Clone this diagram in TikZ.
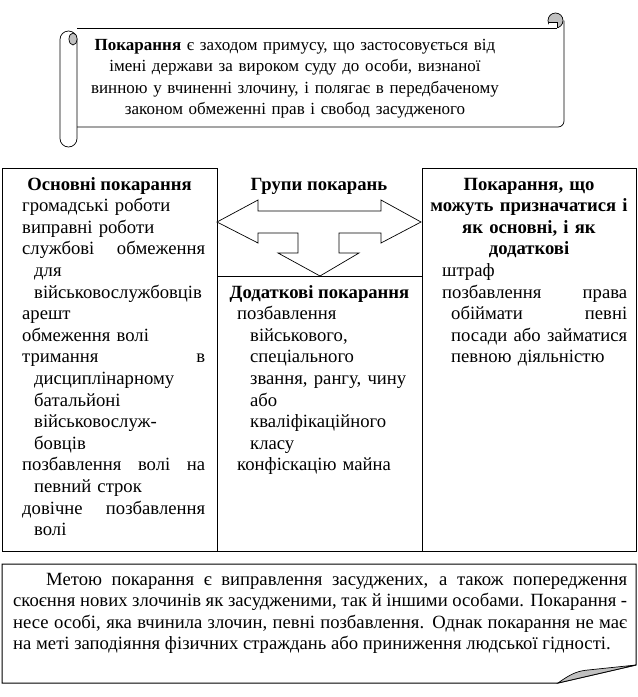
\documentclass[tikz,border=0pt]{standalone}
\usepackage{fontspec}
\setmainfont{Liberation Serif}
\usepackage{tikz}
\usetikzlibrary{positioning, calc}
\definecolor{foldgray}{RGB}{192,192,192}
\hyphenpenalty=10000
\tolerance=9999

\begin{document}
\begin{tikzpicture}[x=1pt, y=-1pt,
                    txt/.style={inner sep=0pt, font=\fontsize{18.67}{21.6}\selectfont},
                    head/.style={txt, font=\fontsize{18.67}{21.6}\selectfont\bfseries},
                    boxline/.style={draw, line width=1pt},
                    thinline/.style={draw, line width=0.7pt},
                    curl/.style={thinline, fill=foldgray}]
    \useasboundingbox (0,0) rectangle (638,697);

    % Scroll with the definition
    \draw[thinline, fill=white, rounded corners=8.5pt] (60,31) rectangle (77,147);
    \draw[curl] (73,39) ellipse [x radius=4, y radius=6];
    \draw[thinline] (77,28) -- (557,28);
    \draw[thinline, rounded corners=6pt] (564,20.5) -- (564,127) -- (77,127);
    \draw[curl] (555.5,20.5) circle [radius=7.5];
    \fill[white] (549,22) rectangle (557,28);
    \draw[thinline] (549,22) -- (557,22) -- (557,28);
    \node[txt, font=\fontsize{17}{21.5}\selectfont, anchor=base, text width=450pt, align=center] (def) at (295,50)
        {\textbf{Покарання} є заходом примусу, що застосовується від\\
         імені держави за вироком суду до особи, визнаної\\
         винною у вчиненні злочину, і полягає в передбаченому\\
         законом обмеженні прав і свобод засудженого};

    % Groups
    \draw[boxline] (2,168) rectangle (217,551);
    \draw[boxline] (422,168) rectangle (636,551);
    \draw[boxline] (217,276) rectangle (422,551);
    \node[head, anchor=base] (grp) at (319,190) {Групи покарань};
    \draw[thinline, fill=white] (217,222) -- (258,200) -- (258,211) -- (381,211) -- (381,200)
        -- (421,222) -- (381,243) -- (381,233) -- (339,233) -- (339,253) -- (359,253)
        -- (320,276) -- (278,253) -- (298,253) -- (298,233) -- (258,233) -- (258,243) -- cycle;

    % Main punishments
    \node[head, anchor=base] (osnT) at (109.5,190) {Основні покарання};
    \node[txt, anchor=base west, text width=183pt, align=left] (osnL) at (22,211.6)
        {громадські роботи\\
         виправні роботи\\
         службові\hfill обмеження\\
         \hspace*{12pt}для\\
         \hspace*{12pt}військовослужбовців\\
         арешт\\
         обмеження волі\\
         тримання\hfill в\\
         \hspace*{12pt}дисциплінарному\\
         \hspace*{12pt}батальйоні\\
         \hspace*{12pt}військовослуж-\\
         \hspace*{12pt}бовців\\
         позбавлення\hfill волі\hfill на\\
         \hspace*{12pt}певний строк\\
         довічне\hfill позбавлення\\
         \hspace*{12pt}волі};

    % Additional punishments
    \node[head, anchor=base] (dodT) at (319.5,298) {Додаткові покарання};
    \node[txt, anchor=base west, text width=180pt, align=left] (dodL) at (237,319.6)
        {позбавлення\\
         \hspace*{13pt}військового,\\
         \hspace*{13pt}спеціального\\
         \hspace*{13pt}звання, рангу, чину\\
         \hspace*{13pt}або\\
         \hspace*{13pt}кваліфікаційного\\
         \hspace*{13pt}класу\\
         конфіскацію майна};

    % Both main and additional
    \node[head, anchor=base, text width=205pt, align=center] (bothT) at (529,190)
        {Покарання, що\\
         можуть призначатися і\\
         як основні, і як\\
         додаткові};
    \node[txt, anchor=base west, text width=185pt, align=left] (bothL) at (442,276.4)
        {штраф\\
         позбавлення\hfill права\\
         \hspace*{9pt}обіймати\hfill певні\\
         \hspace*{9pt}посади\hfill або\hfill займатися\\
         \hspace*{9pt}певною діяльністю};

    % Aim of punishment
    \draw[boxline] (2,564) -- (636,564) -- (636,665) -- (558,683) -- (2,683) -- cycle;
    \draw[thinline, fill=foldgray] (558,683) .. controls (572,673) and (578,671) .. (588,670)
        -- (636,665) -- cycle;
    \node[txt, anchor=base west, text width=614pt, align=justify] (aim) at (13,585)
        {\hspace*{33pt}Метою покарання є виправлення засуджених, а також попередження\linebreak
         скоєння нових злочинів як засудженими, так й іншими особами. Покарання -\linebreak
         несе особі, яка вчинила злочин, певні позбавлення. Однак покарання не має\linebreak
         на меті заподіяння фізичних страждань або приниження людської гідності.};

\end{tikzpicture}
\end{document}
